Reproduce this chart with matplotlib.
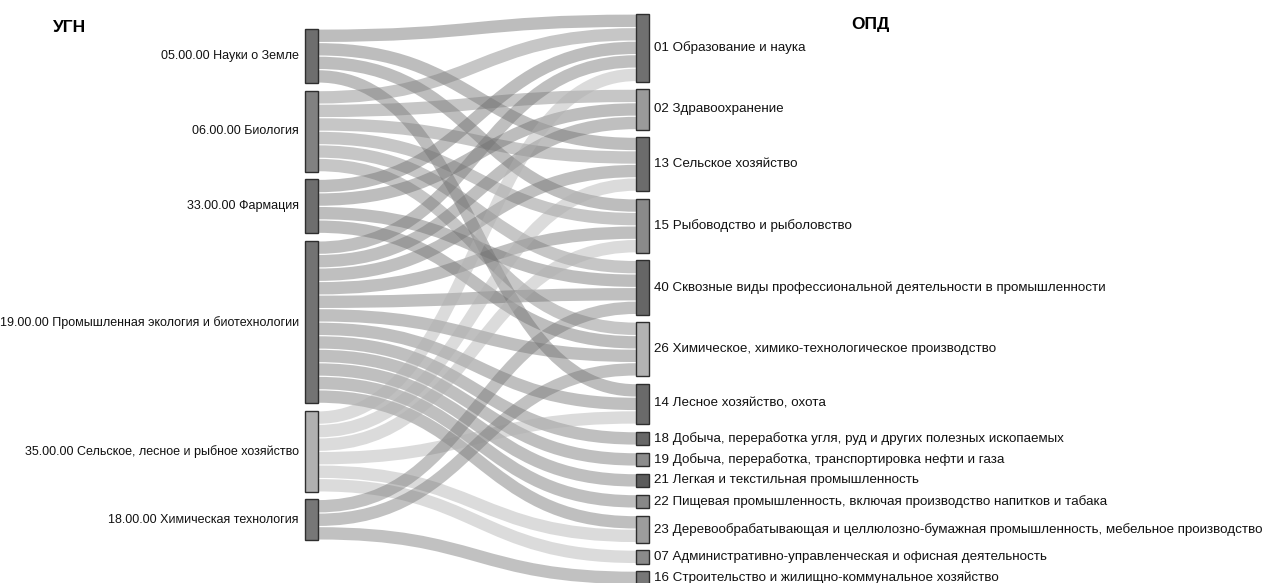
import matplotlib
matplotlib.use("Agg")
import matplotlib.pyplot as plt
from matplotlib.path import Path
from matplotlib.patches import PathPatch, Rectangle

plt.rcParams['font.family'] = ['Liberation Sans', 'DejaVu Sans']

# --- data ---
left_labels = ["05.00.00 Науки о Земле",
               "06.00.00 Биология",
               "33.00.00 Фармация",
               "19.00.00 Промышленная экология и биотехнологии",
               "35.00.00 Сельское, лесное и рыбное хозяйство",
               "18.00.00 Химическая технология"]
right_labels = ["01 Образование и наука",
                "02 Здравоохранение",
                "13 Сельское хозяйство",
                "15 Рыбоводство и рыболовство",
                "40 Сквозные виды профессиональной деятельности в промышленности",
                "26 Химическое, химико-технологическое производство",
                "14 Лесное хозяйство, охота",
                "18 Добыча, переработка угля, руд и других полезных ископаемых",
                "19 Добыча, переработка, транспортировка нефти и газа",
                "21 Легкая и текстильная промышленность",
                "22 Пищевая промышленность, включая производство напитков и табака",
                "23 Деревообрабатывающая и целлюлозно-бумажная промышленность, мебельное производство",
                "07 Административно-управленческая и офисная деятельность",
                "16 Строительство и жилищно-коммунальное хозяйство"]
link_source = [0, 0, 0, 0,
               1, 1, 1, 1, 1, 1,
               2, 2, 2, 2,
               3, 3, 3, 3, 3, 3, 3, 3, 3, 3, 3, 3,
               4, 4, 4, 4, 4, 4,
               5, 5, 5]
link_target = [0, 2, 3, 6,
               0, 1, 2, 3, 4, 5,
               0, 1, 4, 5,
               0, 1, 2, 3, 4, 5, 6, 7, 8, 9, 10, 11,
               0, 2, 3, 6, 11, 12,
               4, 5, 13]
link_value = [1, 1, 1, 1,
              1, 1, 1, 1, 1, 1,
              1, 1, 1, 1,
              1, 1, 1, 1, 1, 1, 1, 1, 1, 1, 1, 1,
              1, 1, 1, 1, 1, 1,
              1, 1, 1]

# --- style ---
left_colors = ['#6e6e6e', '#818181', '#6e6e6e', '#737373', '#b0b0b0', '#777777']
right_colors = ['#707070', '#9a9a9a', '#6c6c6c', '#8a8a8a', '#666666', '#b2b2b2',
                '#6a6a6a', '#676767', '#8c8c8c', '#5c5c5c', '#888888', '#9c9c9c',
                '#8a8a8a', '#777777']

W, H, DPI = 1266, 583, 100
unit, gap = 13.54, 7.44
node_w = 13
left_x, right_x = 305, 636
left_top, right_top = 29, 14

fig = plt.figure(figsize=(W / DPI, H / DPI), dpi=DPI)
ax = fig.add_axes([0, 0, 1, 1])
ax.set_xlim(0, W)
ax.set_ylim(H, 0)
ax.axis('off')


def stack(n_nodes, idx_list, top):
    totals = [0] * n_nodes
    for i, v in zip(idx_list, link_value):
        totals[i] += v
    ys = []
    y = top
    for t in totals:
        ys.append(y)
        y += t * unit + gap
    return ys, totals


left_y, left_tot = stack(len(left_labels), link_source, left_top)
right_y, right_tot = stack(len(right_labels), link_target, right_top)

# offsets of each link inside its nodes (d3-style ordering)
n = len(link_value)
src_off = [0] * n
tgt_off = [0] * n
for s in range(len(left_labels)):
    ids = sorted([i for i in range(n) if link_source[i] == s], key=lambda i: link_target[i])
    y = left_y[s]
    for i in ids:
        src_off[i] = y
        y += link_value[i] * unit
for t in range(len(right_labels)):
    ids = sorted([i for i in range(n) if link_target[i] == t], key=lambda i: link_source[i])
    y = right_y[t]
    for i in ids:
        tgt_off[i] = y
        y += link_value[i] * unit

# links
x0 = left_x + node_w
x1 = right_x
xm = (x0 + x1) / 2
for i in range(n):
    w = link_value[i] * unit
    y0 = src_off[i] + w / 2
    y1 = tgt_off[i] + w / 2
    path = Path([(x0, y0), (xm, y0), (xm, y1), (x1, y1)],
                [Path.MOVETO, Path.CURVE4, Path.CURVE4, Path.CURVE4])
    ax.add_patch(PathPatch(path, facecolor='none',
                           edgecolor=left_colors[link_source[i]], alpha=0.45,
                           lw=(w - 1.2) * 72 / DPI, capstyle='butt', zorder=1))

# nodes + labels
for k, lab in enumerate(left_labels):
    h = left_tot[k] * unit
    ax.add_patch(Rectangle((left_x, left_y[k]), node_w, h, facecolor=left_colors[k],
                           edgecolor='#2e2e2e', lw=1, zorder=3))
    ax.text(left_x - 6, left_y[k] + h / 2, lab, ha='right', va='center',
            fontsize=9.0, color='#111111')
for k, lab in enumerate(right_labels):
    h = right_tot[k] * unit
    ax.add_patch(Rectangle((right_x, right_y[k]), node_w, h, facecolor=right_colors[k],
                           edgecolor='#2e2e2e', lw=1, zorder=3))
    ax.text(right_x + node_w + 5, right_y[k] + h / 2, lab, ha='left', va='center',
            fontsize=9.6, color='#111111')

ax.text(70, 28, "УГН", ha='center', va='center', fontsize=12.5, fontweight='bold')
ax.text(870, 25, "ОПД", ha='center', va='center', fontsize=12.5, fontweight='bold')

fig.savefig("out.png", dpi=DPI)
